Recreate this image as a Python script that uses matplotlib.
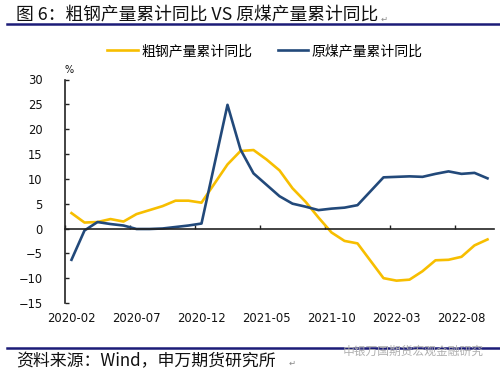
import matplotlib
matplotlib.use("Agg")
import matplotlib.pyplot as plt
import matplotlib.transforms as mtransforms
from matplotlib.lines import Line2D
import pandas as pd

plt.rcParams['font.family'] = ['Noto Sans CJK SC', 'DejaVu Sans']

months = ['2020-02', '2020-03', '2020-04', '2020-05', '2020-06', '2020-07', '2020-08',
          '2020-09', '2020-10', '2020-11', '2020-12',
          '2021-02', '2021-03', '2021-04', '2021-05', '2021-06', '2021-07', '2021-08',
          '2021-09', '2021-10', '2021-11', '2021-12',
          '2022-02', '2022-03', '2022-04', '2022-05', '2022-06', '2022-07', '2022-08',
          '2022-09', '2022-10']
steel = [3.1, 1.2, 1.3, 1.9, 1.4, 2.9, 3.7, 4.5, 5.6, 5.6, 5.2,
         12.9, 15.6, 15.8, 13.9, 11.7, 8.1, 5.4, 2.2, -0.8, -2.5, -3.0,
         -10.0, -10.5, -10.3, -8.6, -6.4, -6.3, -5.7, -3.4, -2.2]
coal = [-6.3, -0.4, 1.3, 0.9, 0.6, -0.1, -0.1, 0.0, 0.3, 0.6, 1.0,
        24.9, 15.9, 11.1, 8.8, 6.5, 5.0, 4.4, 3.7, 4.0, 4.2, 4.7,
        10.3, 10.4, 10.5, 10.4, 11.0, 11.5, 11.0, 11.2, 10.1]
tick_labels = ['2020-02', '2020-07', '2020-12', '2021-05', '2021-10', '2022-03', '2022-08']
series_names = ['粗钢产量累计同比', '原煤产量累计同比']
yticks = [-15, -10, -5, 0, 5, 10, 15, 20, 25, 30]

c_steel = '#F7BE00'
c_coal = '#22497A'
navy = '#1C1C78'

start = pd.Period('2020-02', freq='M')
xs = [(pd.Period(m, freq='M') - start).n for m in months]
tick_pos = [(pd.Period(m, freq='M') - start).n for m in tick_labels]

fig = plt.figure(figsize=(5.0, 3.74), dpi=100)
ax = fig.add_axes([65/500, 1-303/374, (494-65)/500, (303-79.5)/374])

ax.plot(xs, steel, color=c_steel, lw=1.9, label=series_names[0], solid_joinstyle='round')
ax.plot(xs, coal, color=c_coal, lw=1.9, label=series_names[1], solid_joinstyle='round')

ax.set_ylim(-15, 30)
ax.set_xlim(-0.5, 32.5)
ax.set_yticks(yticks)
ax.spines['top'].set_visible(False)
ax.spines['right'].set_visible(False)
ax.spines['left'].set_color('#222222')
ax.spines['left'].set_linewidth(1.2)
ax.spines['bottom'].set_position(('data', 0))
ax.spines['bottom'].set_color('#222222')
ax.spines['bottom'].set_linewidth(1.2)
ax.tick_params(axis='y', direction='in', length=3, width=1, color='#222222',
               labelsize=8.3, pad=16, labelfontfamily='DejaVu Sans', labelcolor='#111111')
ax.set_xticks([p - 0.5 for p in tick_pos])
ax.tick_params(axis='x', direction='in', length=3, width=1, color='#222222', labelbottom=False)

trans = mtransforms.blended_transform_factory(ax.transData, fig.transFigure)
for p, lab in zip(tick_pos, tick_labels):
    ax.text(p, 1-318/374, lab, transform=trans, ha='center', va='center',
            fontsize=8.4, family='DejaVu Sans', color='#111111')

fig.text(69/500, 1-70/374, '%', fontsize=7, family='DejaVu Sans', ha='center', va='center',
         color='#111111')

# legend
fig.legend(loc='center', bbox_to_anchor=(265/500, 1-51/374), ncol=2, frameon=False,
           fontsize=10, handlelength=2.2, handletextpad=0.25, columnspacing=1.8,
           borderaxespad=0)

# title and rules
fig.text(16/500, 1-15/374, '图 6：粗钢产量累计同比 VS 原煤产量累计同比', fontsize=12.8,
         ha='left', va='center', color='#111111')
fig.text(381/500, 1-19/374, '↵', fontsize=6, family='DejaVu Sans', color='#888888',
         ha='left', va='center')
fig.add_artist(Line2D([7/500, 1], [1-24/374, 1-24/374], color=navy, lw=1.8,
                      transform=fig.transFigure))
fig.add_artist(Line2D([7/500, 1], [1-347.5/374, 1-347.5/374], color=navy, lw=1.8,
                      transform=fig.transFigure))
fig.text(16/500, 1-361/374, '资料来源：Wind，申万期货研究所', fontsize=12.2,
         ha='left', va='center', color='#111111')
fig.text(289/500, 1-363/374, '↵', fontsize=6, family='DejaVu Sans', color='#888888',
         ha='left', va='center')
fig.text(484/500, 1-351/374, '申银万国期货宏观金融研究', fontsize=8.5,
         ha='right', va='center', color='#b0b0b0')

fig.savefig('out.png', dpi=100)
